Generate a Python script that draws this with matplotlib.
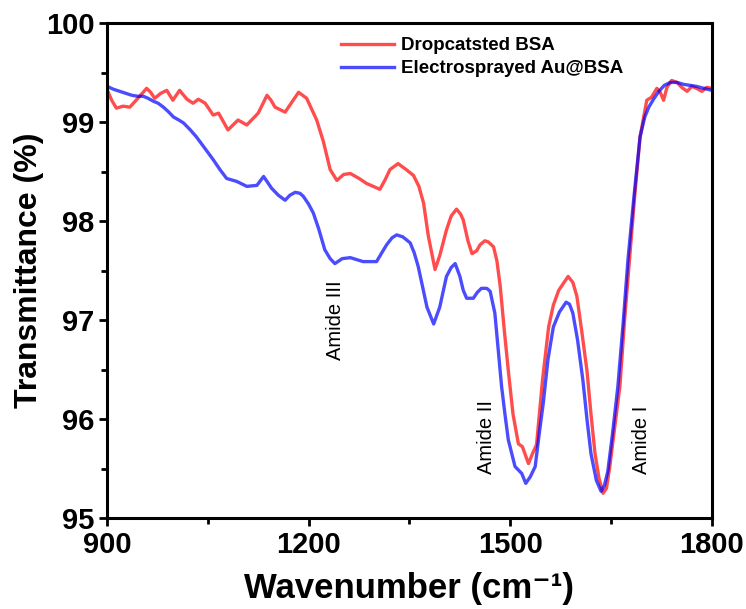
import matplotlib.pyplot as plt
from matplotlib.ticker import MultipleLocator

# FTIR spectra, wavenumber (cm-1) vs transmittance (%)
wn_drop = [900, 907, 914, 924, 934, 946, 959, 965, 971, 980, 989, 998, 1008, 1019, 1028,
           1036, 1046, 1058, 1066, 1080, 1095, 1108, 1125, 1133, 1138, 1144, 1150, 1165,
           1175, 1185, 1197, 1212, 1222, 1232, 1242, 1252, 1262, 1275, 1286, 1306, 1314,
           1321, 1333, 1345, 1356, 1364, 1371, 1378, 1388, 1395, 1405, 1412, 1420, 1426,
           1430, 1437, 1443, 1450, 1455, 1462, 1467, 1475, 1480, 1485, 1491, 1497, 1504,
           1512, 1518, 1527, 1533, 1539, 1548, 1557, 1564, 1572, 1586, 1593, 1599, 1606,
           1614, 1620, 1626, 1632, 1638, 1643, 1648, 1655, 1663, 1670, 1678, 1685, 1693,
           1703, 1710, 1718, 1723, 1728, 1733, 1740, 1748, 1755, 1763, 1770, 1777, 1785,
           1792, 1800]
t_drop = [99.33, 99.22, 99.14, 99.16, 99.15, 99.24, 99.34, 99.30, 99.24, 99.29, 99.32, 99.22,
          99.32, 99.23, 99.19, 99.23, 99.19, 99.07, 99.09, 98.92, 99.02, 98.97, 99.09, 99.20,
          99.27, 99.22, 99.15, 99.10, 99.20, 99.30, 99.24, 99.02, 98.80, 98.52, 98.41, 98.47,
          98.48, 98.43, 98.38, 98.32, 98.42, 98.52, 98.58, 98.52, 98.46, 98.35, 98.18, 97.85,
          97.51, 97.65, 97.91, 98.05, 98.12, 98.07, 98.01, 97.80, 97.67, 97.70, 97.76, 97.80,
          97.79, 97.74, 97.60, 97.34, 96.90, 96.49, 96.05, 95.75, 95.72, 95.55, 95.65, 95.74,
          96.40, 96.93, 97.15, 97.30, 97.44, 97.38, 97.24, 96.90, 96.49, 96.05, 95.65, 95.40,
          95.25, 95.30, 95.52, 95.90, 96.33, 97.00, 97.67, 98.25, 98.85, 99.22, 99.25, 99.34,
          99.30, 99.22, 99.35, 99.42, 99.40, 99.35, 99.31, 99.36, 99.34, 99.31, 99.35, 99.34]

wn_es = [900, 910, 919, 928, 937, 946, 954, 961, 969, 976, 984, 992, 999, 1007, 1014, 1024,
         1033, 1045, 1058, 1068, 1078, 1093, 1108, 1123, 1133, 1139, 1145, 1155, 1165, 1172,
         1180, 1187, 1192, 1200, 1207, 1215, 1224, 1232, 1239, 1250, 1262, 1281, 1301, 1308,
         1316, 1324, 1331, 1340, 1351, 1357, 1363, 1370, 1376, 1386, 1395, 1405, 1412, 1418,
         1425, 1430, 1435, 1445, 1451, 1457, 1465, 1470, 1477, 1482, 1487, 1492, 1497, 1507,
         1517, 1523, 1530, 1537, 1543, 1549, 1556, 1564, 1573, 1583, 1588, 1593, 1600, 1608,
         1614, 1620, 1628, 1635, 1640, 1645, 1652, 1660, 1668, 1675, 1684, 1693, 1700, 1706,
         1713, 1721, 1729, 1738, 1748, 1758, 1768, 1777, 1788, 1800]
t_es = [99.36, 99.33, 99.31, 99.29, 99.27, 99.26, 99.26, 99.24, 99.21, 99.19, 99.15, 99.10,
        99.05, 99.02, 98.99, 98.92, 98.85, 98.74, 98.62, 98.52, 98.43, 98.40, 98.35, 98.36,
        98.45, 98.39, 98.33, 98.26, 98.21, 98.26, 98.29, 98.28, 98.25, 98.17, 98.08, 97.92,
        97.71, 97.62, 97.57, 97.62, 97.63, 97.59, 97.59, 97.67, 97.76, 97.83, 97.86, 97.84,
        97.78, 97.68, 97.54, 97.32, 97.13, 96.96, 97.13, 97.44, 97.53, 97.57, 97.44, 97.30,
        97.22, 97.22, 97.28, 97.32, 97.32, 97.29, 97.07, 96.70, 96.33, 96.05, 95.79, 95.52,
        95.45, 95.35, 95.42, 95.52, 95.85, 96.16, 96.60, 96.93, 97.08, 97.18, 97.16, 97.07,
        96.80, 96.39, 96.00, 95.65, 95.38, 95.27, 95.33, 95.47, 95.85, 96.33, 96.98, 97.61,
        98.25, 98.85, 99.05, 99.15, 99.23, 99.31, 99.37, 99.40, 99.40, 99.38, 99.37, 99.36,
        99.34, 99.32]

band_labels = ['Amide III', 'Amide II', 'Amide I']
band_pos = [(1240, 97.0), (1465, 95.82), (1695, 95.79)]

plt.rcParams['font.family'] = ['Liberation Sans', 'DejaVu Sans']

fig = plt.figure(figsize=(7.46, 6.09), dpi=100)
ax = fig.add_axes([0.1434, 0.1494, 0.811, 0.8128])

ax.plot(wn_drop, t_drop, color='red', alpha=0.7, lw=2.4, label='Dropcatsted BSA')
ax.plot(wn_es, t_es, color='blue', alpha=0.7, lw=2.4, label='Electrosprayed Au@BSA')

for name, (x, y) in zip(band_labels, band_pos):
    ax.text(x, y, name, rotation=90, ha='center', va='center', fontsize=14.5)

ax.set_xlim(900, 1800)
ax.set_ylim(95, 100)
ax.xaxis.set_major_locator(MultipleLocator(300))
ax.xaxis.set_minor_locator(MultipleLocator(150))
ax.yaxis.set_major_locator(MultipleLocator(1))
ax.yaxis.set_minor_locator(MultipleLocator(0.5))
ax.tick_params(which='major', direction='out', length=6, width=2, labelsize=21, pad=3)
ax.tick_params(which='minor', direction='out', length=4, width=2)
for lab in ax.get_xticklabels() + ax.get_yticklabels():
    lab.set_fontweight('bold')
for sp in ax.spines.values():
    sp.set_linewidth(2.2)

ax.set_xlabel('Wavenumber (cm\u207b\u00b9)', fontsize=25, fontweight='bold', labelpad=10)
ax.set_ylabel('Transmittance (%)', fontsize=23, fontweight='bold', labelpad=1)

leg = ax.legend(loc='upper left', bbox_to_anchor=(0.372, 0.99), frameon=False,
                fontsize=13.5, handlelength=2.8, borderpad=0, labelspacing=0.3,
                handletextpad=0.4)
for t in leg.get_texts():
    t.set_fontweight('bold')

fig.savefig('out.png', dpi=100)
